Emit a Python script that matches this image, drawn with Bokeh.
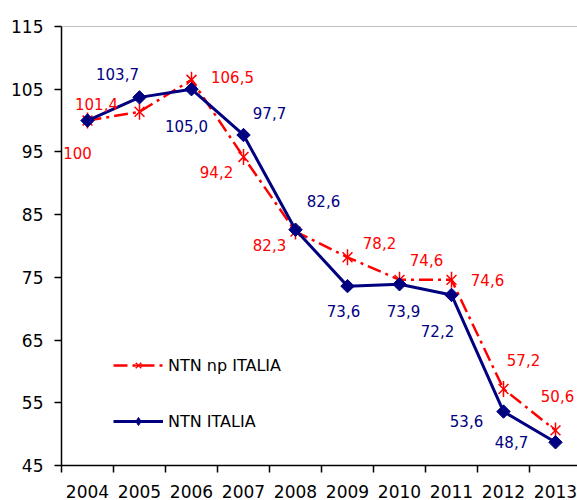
import numpy as np
from bokeh.plotting import figure
from bokeh.models import (ColumnDataSource, LabelSet, FixedTicker, Span, Legend,
                          LegendItem, CustomJSTickFormatter, Range1d)
from bokeh.core.properties import value
from bokeh.embed import file_html
from bokeh.resources import INLINE

years = ["2004", "2005", "2006", "2007", "2008", "2009", "2010", "2011", "2012", "2013"]
ntn_italia = [100, 103.7, 105.0, 97.7, 82.6, 73.6, 73.9, 72.2, 53.6, 48.7]
ntn_np_italia = [100, 101.4, 106.5, 94.2, 82.3, 78.2, 74.6, 74.6, 57.2, 50.6]
y_ticks = [45, 55, 65, 75, 85, 95, 105, 115]

# label placement (screen px, right / up)
navy_off = [None, (-22, 23), (-5, -37), (26, 22), (28, 29), (-4, -25), (4, -27), (-14, -36), (-37, -9), (-44, 0)]
red_off = [(-10, -32), (-43, 8), (41, 3), (-27, -15), (-26, -13), (32, 14), (27, 20), (36, 0), (20, 29), (2, 34)]

NAVY = "#000080"
RED = "#ff0000"
FONT = "DejaVu Sans"

def fmt(v):
    if v == 100:
        return "100"
    return ("%.1f" % v).replace(".", ",")

xs = [i + 0.5 for i in range(len(years))]

p = figure(width=577, height=500, output_backend="svg", toolbar_location=None,
           x_range=Range1d(0, 9.923), y_range=Range1d(45, 115),
           min_border_left=61, min_border_right=0, min_border_top=26, min_border_bottom=34)
p.outline_line_color = None
p.xgrid.visible = False
p.ygrid.visible = False
p.background_fill_color = "white"
p.border_fill_color = "white"

# top gray border
p.add_layout(Span(location=115, dimension="width", line_color="#808080", line_width=1))

src_red = ColumnDataSource(dict(x=xs, y=ntn_np_italia))
src_navy = ColumnDataSource(dict(x=xs, y=ntn_italia))

r_red_line = p.line("x", "y", source=src_red, line_color=RED, line_width=2.5, line_dash="14 5 3 5")
r_red_x = p.scatter("x", "y", source=src_red, marker="x", size=14, line_color=RED, line_width=1.5)
r_red_v = p.scatter("x", "y", source=src_red, marker="dash", angle=np.pi / 2, size=16, line_color=RED, line_width=1.5)

r_navy_line = p.line("x", "y", source=src_navy, line_color=NAVY, line_width=3)
r_navy_m = p.scatter("x", "y", source=src_navy, marker="square", angle=np.pi / 4, size=9.5,
                     fill_color=NAVY, line_color=NAVY)
# legend-only diamond glyph (single NaN point, never drawn in the plot)
r_navy_leg = p.scatter(x=[float("nan")], y=[float("nan")], marker="diamond", size=13,
                       fill_color=NAVY, line_color=NAVY)

# data labels
nl = [(x, y, fmt(y), o[0], o[1]) for x, y, o in zip(xs, ntn_italia, navy_off) if o is not None]
rl = [(x, y, fmt(y), o[0], o[1]) for x, y, o in zip(xs, ntn_np_italia, red_off) if o is not None]
for rows, col in ((rl, RED), (nl, NAVY)):
    s = ColumnDataSource(dict(x=[r[0] for r in rows], y=[r[1] for r in rows], t=[r[2] for r in rows],
                              dx=[r[3] for r in rows], dy=[r[4] for r in rows]))
    p.add_layout(LabelSet(x="x", y="y", text="t", source=s, x_offset="dx", y_offset="dy",
                          text_align="center", text_baseline="middle", text_color=col,
                          text_font=value(FONT), text_font_size="15px"))

# axes
p.xaxis.ticker = FixedTicker(ticks=xs, minor_ticks=list(range(len(years))))
p.xaxis.formatter = CustomJSTickFormatter(args=dict(labels=years),
                                          code="return labels[Math.floor(tick)];")
p.xaxis.major_tick_line_color = None
p.xaxis.major_tick_out = 0
p.xaxis.major_tick_in = 0
p.xaxis.minor_tick_out = 7
p.xaxis.minor_tick_in = 0
p.xaxis.minor_tick_line_color = "black"
p.xaxis.minor_tick_line_width = 1.5
p.xaxis.major_label_standoff = 12
p.yaxis.ticker = FixedTicker(ticks=y_ticks, minor_ticks=[])
p.yaxis.major_tick_out = 7
p.yaxis.major_tick_in = 0
p.yaxis.major_tick_line_width = 1.5
p.yaxis.major_label_standoff = 11
for ax in (p.xaxis, p.yaxis):
    ax.axis_line_color = "black"
    ax.axis_line_width = 1.5
    ax.major_label_text_font = FONT
    ax.major_label_text_font_size = "17px"
    ax.major_label_text_color = "black"

legend = Legend(items=[LegendItem(label="NTN np ITALIA", renderers=[r_red_line, r_red_x, r_red_v]),
                       LegendItem(label="NTN ITALIA", renderers=[r_navy_line, r_navy_leg])],
                location=(52, 34), orientation="vertical")
legend.border_line_color = None
legend.background_fill_alpha = 0
legend.padding = 0
legend.margin = 0
legend.spacing = 36
legend.glyph_width = 50
legend.glyph_height = 20
legend.label_height = 20
legend.label_standoff = 5
legend.label_text_font = FONT
legend.label_text_font_size = "16px"
legend.label_text_color = "black"
p.add_layout(legend)

open("out.html", "w").write(file_html(p, INLINE))
